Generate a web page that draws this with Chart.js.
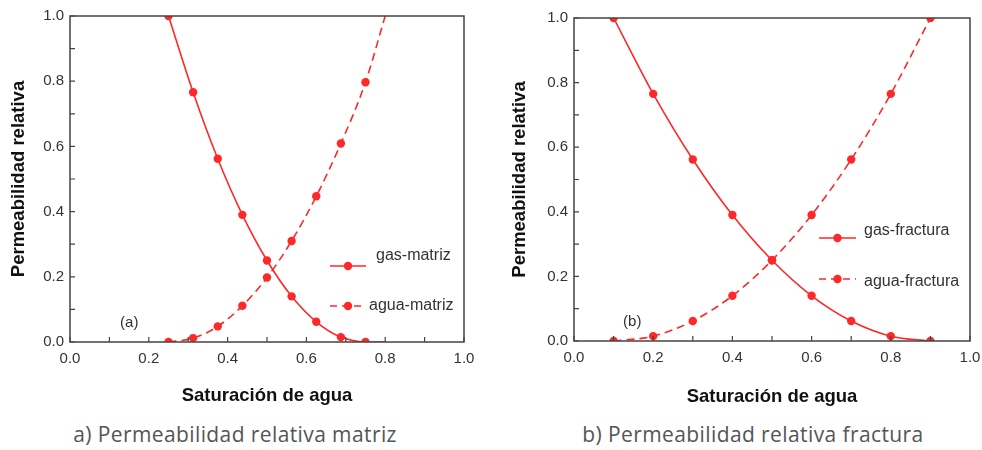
<!DOCTYPE html>
<html>
<head>
<meta charset="utf-8">
<script src="https://cdn.jsdelivr.net/npm/chart.js@4.4.0/dist/chart.umd.min.js"></script>
<style>
  body { margin: 0; background: #fff; width: 982px; height: 450px; overflow: hidden; position: relative; }
  .panel { position: absolute; top: 0; width: 491px; height: 410px; }
  .caption { position: absolute; top: 424px; font-family: "Open Sans", "Noto Sans", sans-serif; font-size: 21px;
             line-height: 21px; letter-spacing: 0.4px; color: #555; white-space: nowrap; transform: translateX(-50%); }
</style>
</head>
<body>
<div class="panel" style="left:0"><canvas id="chartMatriz" width="491" height="410"></canvas></div>
<div class="panel" style="left:491px"><canvas id="chartFractura" width="491" height="410"></canvas></div>
<div class="caption" style="left:235px">a) Permeabilidad relativa matriz</div>
<div class="caption" style="left:753px">b) Permeabilidad relativa fractura</div>

<script>
// water saturation / relative permeability
const satMatriz  = [0.25, 0.3125, 0.375, 0.4375, 0.5, 0.5625, 0.625, 0.6875, 0.75, 0.8];
const gasMatriz  = [1.0, 0.766, 0.562, 0.39, 0.25, 0.14, 0.062, 0.015, 0.0, 0.0];
const aguaMatriz = [0.0, 0.012, 0.048, 0.111, 0.198, 0.31, 0.447, 0.609, 0.797, 1.0];
const markersMatriz = 9;   // the 0.8 point only ends the curve

const satFractura  = [0.1, 0.2, 0.3, 0.4, 0.5, 0.6, 0.7, 0.8, 0.9];
const gasFractura  = [1.0, 0.765, 0.562, 0.39, 0.25, 0.14, 0.062, 0.015, 0.0];
const aguaFractura = [0.0, 0.015, 0.062, 0.14, 0.25, 0.39, 0.562, 0.765, 1.0];
const markersFractura = 9;

const tickValues = [0, 0.2, 0.4, 0.6, 0.8, 1.0];
const tickLabels = ['0.0', '0.2', '0.4', '0.6', '0.8', '1.0'];
const tickMarks  = [0, 0.1, 0.2, 0.3, 0.4, 0.5, 0.6, 0.7, 0.8, 0.9, 1.0];

const RED = '#ff2828';
const FONT = 'Arial, "Liberation Sans", sans-serif';

function curve(label, xs, ys, dashed, nMarked) {
    return {
        label: label,
        data: xs.map((x, i) => ({ x: x, y: ys[i] })),
        borderColor: RED,
        backgroundColor: RED,
        borderWidth: 1.6,
        borderDash: dashed ? [8, 5] : [],
        pointRadius: xs.map((x, i) => i < nMarked ? 4.2 : 0),
        pointBorderWidth: 0,
        pointHoverRadius: 4.2,
        cubicInterpolationMode: 'monotone'
    };
}

// frame, inward tick marks, in-plot legend and panel letter
const framePlugin = {
    id: 'frame',
    afterDatasetsDraw(chart, args, opts) {
        const { ctx, chartArea: a, scales } = chart;
        ctx.save();
        ctx.strokeStyle = '#444';
        ctx.lineWidth = 1.5;
        ctx.setLineDash([]);
        ctx.strokeRect(a.left, a.top, a.right - a.left, a.bottom - a.top);
        ctx.lineWidth = 1.2;
        tickMarks.forEach(v => {
            const px = scales.x.getPixelForValue(v);
            const py = scales.y.getPixelForValue(v);
            ctx.beginPath();
            ctx.moveTo(px, a.bottom); ctx.lineTo(px, a.bottom - 5);
            ctx.moveTo(a.left, py); ctx.lineTo(a.left + 5, py);
            ctx.stroke();
        });

        // legend
        ctx.font = '16px ' + FONT;
        ctx.textBaseline = 'middle';
        ctx.textAlign = 'left';
        opts.legend.forEach(r => {
            ctx.strokeStyle = RED;
            ctx.fillStyle = RED;
            ctx.lineWidth = 1.6;
            ctx.setLineDash(r.dash);
            ctx.beginPath();
            ctx.moveTo(a.left + r.x1, a.top + r.y);
            ctx.lineTo(a.left + r.x2, a.top + r.y);
            ctx.stroke();
            ctx.setLineDash([]);
            ctx.beginPath();
            ctx.arc(a.left + (r.x1 + r.x2) / 2, a.top + r.y, 4.2, 0, Math.PI * 2);
            ctx.fill();
            ctx.fillStyle = '#333';
            ctx.fillText(r.text, a.left + r.tx, a.top + r.ty);
        });

        // panel letter
        ctx.font = '15px ' + FONT;
        ctx.fillStyle = '#333';
        ctx.fillText(opts.tag.text, scales.x.getPixelForValue(opts.tag.x), scales.y.getPixelForValue(opts.tag.y));
        ctx.restore();
    }
};

function axis(fitSize, title, titlePad, horizontal) {
    return {
        type: 'linear',
        min: 0,
        max: 1,
        afterBuildTicks: s => { s.ticks = tickValues.map(v => ({ value: v })); },
        afterFit: s => {
            if (horizontal) {
                s.height = fitSize;
                s.paddingLeft = 0;
                s.paddingRight = 0;   // let the last label hang past the frame
            } else {
                s.width = fitSize;
            }
        },
        grid: { drawOnChartArea: false, drawTicks: false },
        border: { display: false },
        ticks: {
            padding: horizontal ? 8 : 6,
            color: '#333',
            font: { family: FONT, size: 15 },
            callback: (v, i) => tickLabels[i]
        },
        title: {
            display: true,
            text: title,
            color: '#111',
            font: { family: FONT, size: 18.5, weight: 'bold' },
            padding: titlePad
        }
    };
}

function makeChart(id, cfg) {
    new Chart(document.getElementById(id), {
        type: 'line',
        data: { datasets: cfg.datasets },
        options: {
            responsive: false,
            animation: false,
            layout: { padding: cfg.padding },
            plugins: {
                legend: { display: false },
                tooltip: { enabled: false },
                frame: { legend: cfg.legend, tag: cfg.tag }
            },
            scales: {
                x: axis(cfg.xHeight, 'Saturación de agua', { top: 0, bottom: cfg.xTitlePad }, true),
                y: axis(cfg.yWidth, 'Permeabilidad relativa', { top: cfg.yTitlePad, bottom: 0 }, false)
            }
        },
        plugins: [framePlugin]
    });
}

makeChart('chartMatriz', {
    datasets: [
        curve('gas-matriz', satMatriz, gasMatriz, false, markersMatriz),
        curve('agua-matriz', satMatriz, aguaMatriz, true, markersMatriz)
    ],
    padding: { left: 0, right: 27, top: 16, bottom: 0 },
    xHeight: 68, xTitlePad: 3,
    yWidth: 70, yTitlePad: 8,
    legend: [
        { text: 'gas-matriz', dash: [], x1: 260, x2: 296, y: 250, tx: 306, ty: 240 },
        { text: 'agua-matriz', dash: [7, 5], x1: 260, x2: 296, y: 290, tx: 299, ty: 290 }
    ],
    tag: { text: '(a)', x: 0.127, y: 0.058 }
});

makeChart('chartFractura', {
    datasets: [
        curve('gas-fractura', satFractura, gasFractura, false, markersFractura),
        curve('agua-fractura', satFractura, aguaFractura, true, markersFractura)
    ],
    padding: { left: 0, right: 12, top: 18, bottom: 0 },
    xHeight: 69, xTitlePad: 2,
    yWidth: 83, yTitlePad: 18,
    legend: [
        { text: 'gas-fractura', dash: [], x1: 245, x2: 282, y: 220, tx: 290, ty: 213 },
        { text: 'agua-fractura', dash: [7, 5], x1: 245, x2: 282, y: 261, tx: 290, ty: 264 }
    ],
    tag: { text: '(b)', x: 0.124, y: 0.059 }
});
</script>
</body>
</html>
